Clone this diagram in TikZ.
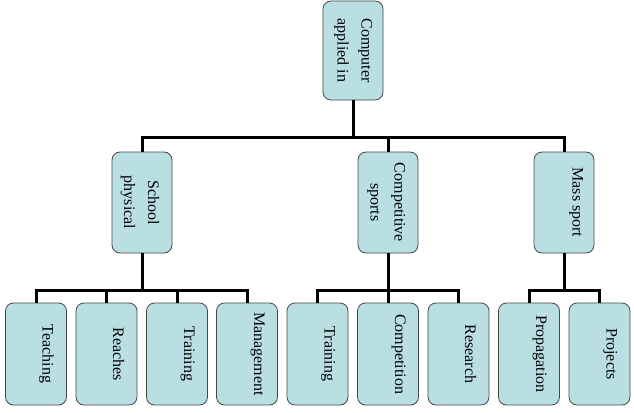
\documentclass[tikz,border=0pt]{standalone}
\usepackage{fontspec}
\setmainfont{Liberation Serif}
\definecolor{boxfill}{RGB}{185,223,227}
\definecolor{boxline}{RGB}{70,70,70}
\begin{document}
\begin{tikzpicture}[x=1pt,y=-1pt,
  box/.style={draw=boxline, line width=0.8pt, fill=boxfill, rounded corners=8pt, minimum width=60pt, inner sep=0pt},
  rootbox/.style={box, minimum height=99pt},
  midbox/.style={box, minimum height=101pt},
  leafbox/.style={box, minimum width=61pt, minimum height=102pt},
  txt/.style={rotate=-90, anchor=north, inner sep=0pt, align=center, font=\fontsize{16}{24}\selectfont},
  conn/.style={line width=3pt}]
\useasboundingbox (0,0) rectangle (634,412);
% boxes
\node[rootbox] (root) at (353,50.5) {};
\node[midbox] (school) at (142,202.5) {};
\node[midbox] (comp) at (388,202.5) {};
\node[midbox] (mass) at (564,202.5) {};
\node[leafbox] (teach) at (36,354) {};
\node[leafbox] (reach) at (106.5,354) {};
\node[leafbox] (train) at (177,354) {};
\node[leafbox] (manage) at (247,354) {};
\node[leafbox] (ctrain) at (317.5,354) {};
\node[leafbox] (compet) at (388,354) {};
\node[leafbox] (research) at (458.5,354) {};
\node[leafbox] (propag) at (529,354) {};
\node[leafbox] (proj) at (599.5,354) {};
% texts
\node[txt] (troot) at ([xshift=-11pt]root.east) {Computer\\applied in};
\node[txt] (tschool) at ([xshift=-13pt]school.east) {School\\physical};
\node[txt] (tcomp) at ([xshift=-13pt]comp.east) {Competitive\\sports};
\node[txt] (tmass) at ([xshift=-11pt]mass.east) {Mass sport};
\node[txt] (tteach) at ([xshift=-13pt]teach.east) {Teaching};
\node[txt] (treach) at ([xshift=-13pt]reach.east) {Reaches};
\node[txt] (ttrain) at ([xshift=-13pt]train.east) {Training};
\node[txt] (tmanage) at ([xshift=-13pt]manage.east) {Management};
\node[txt] (tctrain) at ([xshift=-13pt]ctrain.east) {Training};
\node[txt] (tcompet) at ([xshift=-13pt]compet.east) {Competition};
\node[txt] (tresearch) at ([xshift=-13pt]research.east) {Research};
\node[txt] (tpropag) at ([xshift=-13pt]propag.east) {Propagation};
\node[txt] (tproj) at ([xshift=-13pt]proj.east) {Projects};
% junction coordinates
\coordinate (j0) at (353,137);
\coordinate (j1) at (142,290);
\coordinate (j2) at (388,290);
\coordinate (j3) at (564,290);
% connectors
\draw[conn] (root.south) -- (j0);
\draw[conn] (school.north) |- (j0) -| (comp.north);
\draw[conn] (j0) -| (mass.north);
\draw[conn] (school.south) -- (j1);
\draw[conn] (comp.south) -- (j2);
\draw[conn] (mass.south) -- (j3);
\draw[conn] (teach.north) |- (j1) -| (manage.north);
\draw[conn] (reach.north) -- (reach.north |- j1);
\draw[conn] (train.north) -- (train.north |- j1);
\draw[conn] (ctrain.north) |- (j2) -| (research.north);
\draw[conn] (compet.north) -- (j2);
\draw[conn] (propag.north) |- (j3) -| (proj.north);
\end{tikzpicture}
\end{document}
